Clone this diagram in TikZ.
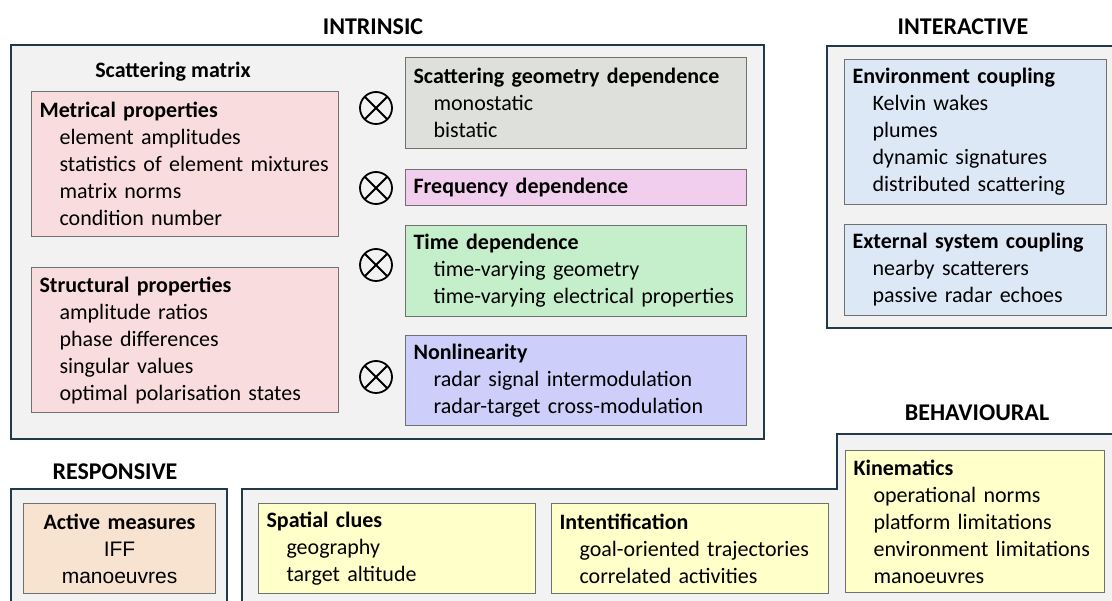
\documentclass[tikz,border=0pt]{standalone}
\usepackage{fontspec}
\setmainfont{Carlito}
\newfontfamily\arialfont{Liberation Sans}
\usepackage{tikz}
\usetikzlibrary{positioning}

\definecolor{framedark}{RGB}{33,58,74}
\definecolor{groupfill}{RGB}{242,242,242}
\definecolor{boxline}{RGB}{112,112,112}
\definecolor{metricpink}{RGB}{249,221,222}
\definecolor{geomgray}{RGB}{222,225,219}
\definecolor{freqpink}{RGB}{242,206,238}
\definecolor{timegreen}{RGB}{196,239,202}
\definecolor{nonlinblue}{RGB}{206,206,250}
\definecolor{coupleblue}{RGB}{221,232,246}
\definecolor{activepeach}{RGB}{248,226,208}
\definecolor{clueyellow}{RGB}{255,255,201}

\newcommand{\propitem}[1]{\hspace*{20pt}#1}

\begin{document}
\begin{tikzpicture}[
    x=1pt,
    y=-1pt,
    font=\fontsize{22}{27}\selectfont,
    group/.style={draw=framedark, line width=1.6pt, fill=groupfill},
    heading/.style={font=\fontsize{24}{28}\selectfont\bfseries},
    propbox/.style={
        draw=boxline,
        line width=1.1pt,
        anchor=north west,
        align=left,
        inner xsep=8pt,
        inner ysep=0pt
    },
    otimes/.style={
        circle,
        draw=black,
        line width=1.8pt,
        minimum size=32pt,
        inner sep=0pt,
        path picture={
            \draw[line width=1.8pt]
                (path picture bounding box.north west) -- (path picture bounding box.south east)
                (path picture bounding box.north east) -- (path picture bounding box.south west);
        }
    }
]

\useasboundingbox (0,0) rectangle (1112,601);
\clip (0,0) rectangle (1112,601);

% =================================================
% GROUP FRAMES
% =================================================

% Intrinsic
\draw[group] (11,45) rectangle (764,439);

% Interactive
\draw[group] (827,46) rectangle (1118,328);

% Responsive
\draw[group] (11,489) rectangle (227,612);

% Behavioural (stepped outline)
\draw[group] (242,612) -- (242,489) -- (837,489) -- (837,434)
    -- (1118,434) -- (1118,612) -- cycle;

% Group headings
\node[heading] (intrinsiclbl) at (373,27) {INTRINSIC};
\node[heading] (interactivelbl) at (963,27) {INTERACTIVE};
\node[heading] (behaviourallbl) at (977,413) {BEHAVIOURAL};
\node[heading] (responsivelbl) at (115,472) {RESPONSIVE};

% =================================================
% INTRINSIC: SCATTERING MATRIX
% =================================================

\node[font=\fontsize{22}{27}\selectfont\bfseries] (smatrix) at (173,72)
{Scattering matrix};

\node[
    propbox,
    fill=metricpink,
    text width=291pt,
    minimum height=145pt
] (metric) at (31,91)
{\textbf{Metrical properties}\\
 \propitem{element amplitudes}\\
 \propitem{statistics of element mixtures}\\
 \propitem{matrix norms}\\
 \propitem{condition number}};

\node[
    propbox,
    fill=metricpink,
    text width=291pt,
    minimum height=145pt
] (struct) at (31,267)
{\textbf{Structural properties}\\
 \propitem{amplitude ratios}\\
 \propitem{phase differences}\\
 \propitem{singular values}\\
 \propitem{optimal polarisation states}};

% Tensor product signs
\foreach \y/\n in {108/1, 188/2, 265/3, 377/4}{
    \node[otimes] (otimes\n) at (376,\y) {};
}

% =================================================
% INTRINSIC: DEPENDENCES
% =================================================

\node[
    propbox,
    fill=geomgray,
    text width=325pt,
    minimum height=91pt
] (geom) at (405,57)
{\textbf{Scattering geometry dependence}\\
 \propitem{monostatic}\\
 \propitem{bistatic}};

\node[
    propbox,
    fill=freqpink,
    text width=325pt,
    minimum height=36pt
] (freq) at (405,169)
{\textbf{Frequency dependence}};

\node[
    propbox,
    fill=timegreen,
    text width=325pt,
    minimum height=91pt
] (time) at (405,225)
{\textbf{Time dependence}\\
 \propitem{time-varying geometry}\\
 \propitem{time-varying electrical properties}};

\node[
    propbox,
    fill=nonlinblue,
    text width=325pt,
    minimum height=90pt
] (nonlin) at (405,335)
{\textbf{Nonlinearity}\\
 \propitem{radar signal intermodulation}\\
 \propitem{radar-target cross-modulation}};

% =================================================
% INTERACTIVE
% =================================================

\node[
    propbox,
    fill=coupleblue,
    text width=246pt,
    minimum height=145pt
] (env) at (844,59)
{\textbf{Environment coupling}\\
 \propitem{Kelvin wakes}\\
 \propitem{plumes}\\
 \propitem{dynamic signatures}\\
 \propitem{distributed scattering}};

\node[
    propbox,
    fill=coupleblue,
    text width=246pt,
    minimum height=91pt
] (ext) at (844,224)
{\textbf{External system coupling}\\
 \propitem{nearby scatterers}\\
 \propitem{passive radar echoes}};

% =================================================
% RESPONSIVE
% =================================================

\node[
    propbox,
    fill=activepeach,
    text width=176pt,
    minimum height=90pt,
    align=center
] (active) at (23,503)
{\textbf{Active measures}\\
 {\arialfont\fontsize{21}{27}\selectfont IFF}\\
 {\arialfont\fontsize{21}{27}\selectfont manoeuvres}};

% =================================================
% BEHAVIOURAL
% =================================================

\node[
    propbox,
    fill=clueyellow,
    text width=261pt,
    minimum height=90pt
] (spatial) at (258,503)
{\textbf{Spatial clues}\\
 \propitem{geography}\\
 \propitem{target altitude}};

\node[
    propbox,
    fill=clueyellow,
    text width=261pt,
    minimum height=90pt
] (intent) at (551,503)
{\textbf{Intentification}\\
 \propitem{goal-oriented trajectories}\\
 \propitem{correlated activities}};

\node[
    propbox,
    fill=clueyellow,
    text width=243pt,
    minimum height=142pt
] (kinem) at (845,450)
{\textbf{Kinematics}\\
 \propitem{operational norms}\\
 \propitem{platform limitations}\\
 \propitem{environment limitations}\\
 \propitem{manoeuvres}};

\end{tikzpicture}
\end{document}
